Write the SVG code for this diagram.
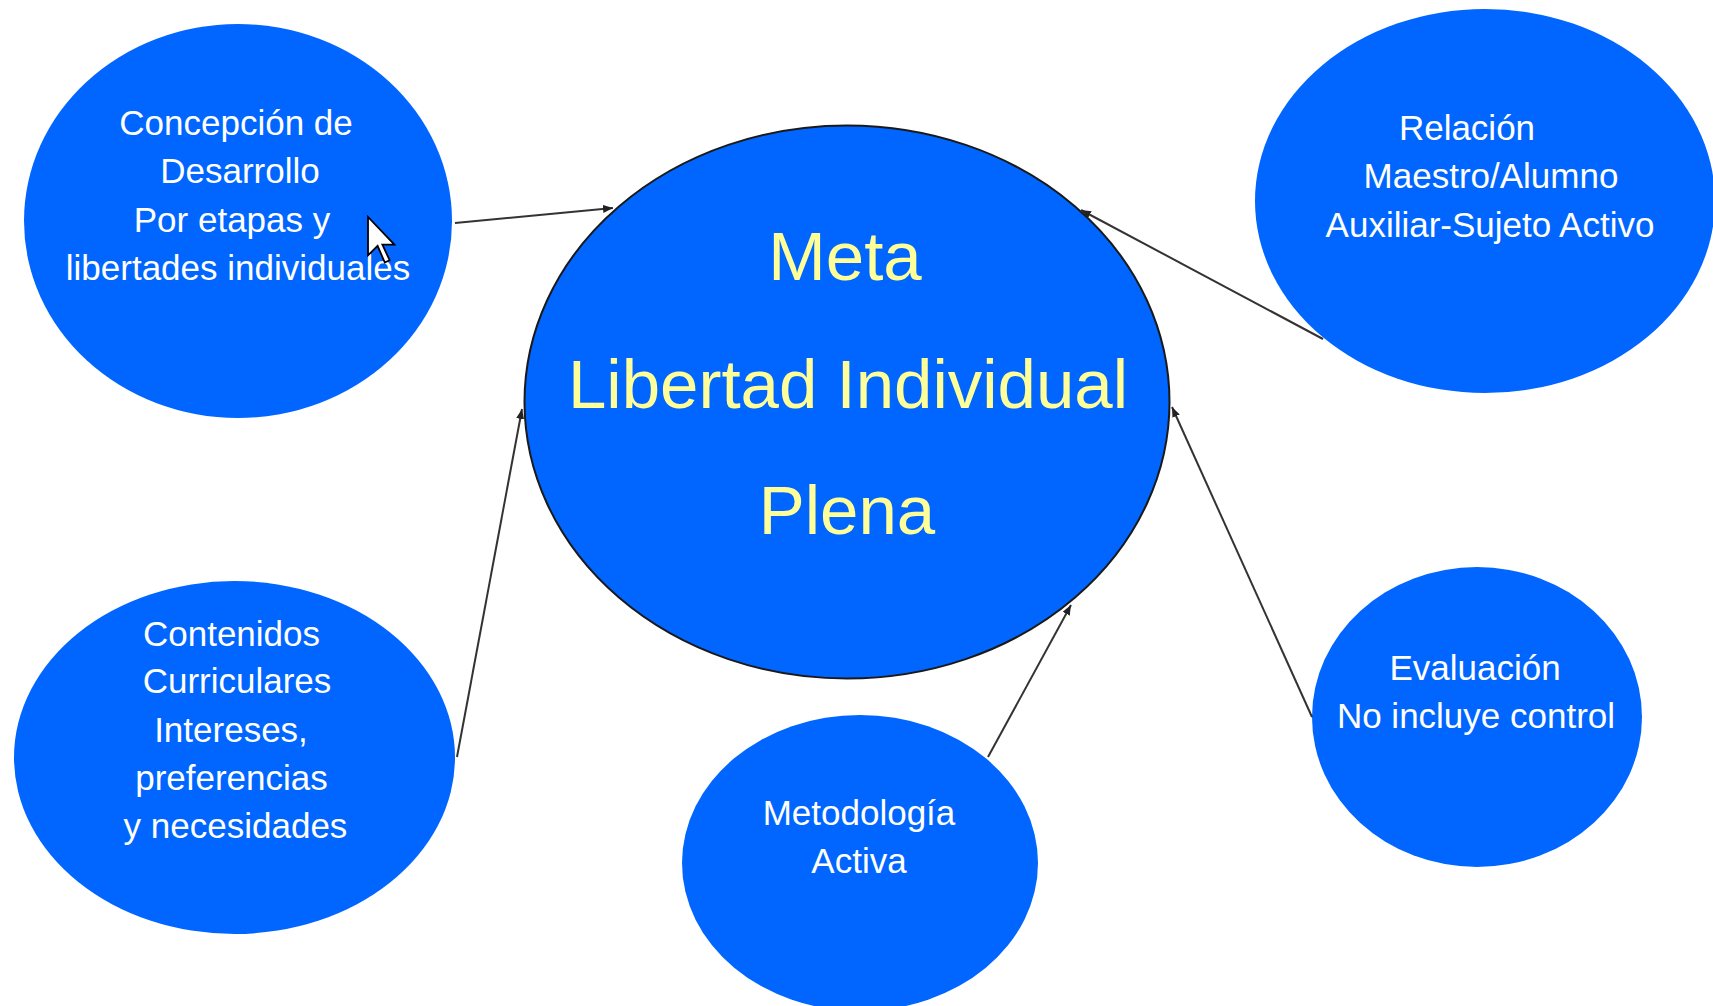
<svg xmlns="http://www.w3.org/2000/svg" width="1713" height="1006" viewBox="0 0 1713 1006">
<defs>
<style>
.node{fill:#0066FF;}
.main{fill:#0066FF;stroke:#1a1a1a;stroke-width:2;}
.t{font-family:"Liberation Sans",Arial,sans-serif;font-size:35px;fill:#FFFFFF;text-anchor:middle;}
.tm{font-family:"Liberation Sans",Arial,sans-serif;font-size:69px;fill:#FFFF99;text-anchor:middle;}
.c{stroke:#333333;stroke-width:2;fill:none;marker-end:url(#ah);}
</style>
<marker id="ah" markerUnits="userSpaceOnUse" markerWidth="12" markerHeight="10" refX="10" refY="4" orient="auto">
<path d="M0,0 L10,4 L0,8 Z" fill="#222222"/>
</marker>
</defs>
<rect width="1713" height="1006" fill="#FFFFFF"/>
<g id="n-concepcion">
<ellipse class="node" cx="238" cy="221" rx="214" ry="197"/>
<text class="t" x="236" y="135">Concepción de</text>
<text class="t" x="240" y="183">Desarrollo</text>
<text class="t" x="232" y="232">Por etapas y</text>
<text class="t" x="238" y="280">libertades individuales</text>
</g>
<g id="n-relacion">
<ellipse class="node" cx="1485" cy="201" rx="230" ry="192"/>
<text class="t" x="1467" y="140">Relación</text>
<text class="t" x="1491" y="188">Maestro/Alumno</text>
<text class="t" x="1490" y="237">Auxiliar-Sujeto Activo</text>
</g>
<g id="n-contenidos">
<ellipse class="node" cx="234.5" cy="757.5" rx="220.5" ry="176.5"/>
<text class="t" x="231.5" y="646">Contenidos</text>
<text class="t" x="237" y="693">Curriculares</text>
<text class="t" x="231" y="742">Intereses,</text>
<text class="t" x="231.5" y="790">preferencias</text>
<text class="t" x="235.5" y="838">y necesidades</text>
</g>
<g id="n-metodologia">
<ellipse class="node" cx="860" cy="863" rx="178" ry="148"/>
<text class="t" x="859" y="825">Metodología</text>
<text class="t" x="859" y="873">Activa</text>
</g>
<g id="n-evaluacion">
<ellipse class="node" cx="1477" cy="717" rx="165" ry="150"/>
<text class="t" x="1475" y="680">Evaluación</text>
<text class="t" x="1476" y="728">No incluye control</text>
</g>
<g id="n-meta">
<ellipse class="main" cx="847" cy="402" rx="322.5" ry="276.5"/>
<text class="tm" x="845" y="280">Meta</text>
<text class="tm" x="848" y="408">Libertad Individual</text>
<text class="tm" x="847" y="534">Plena</text>
</g>
<g id="connectors">
<line class="c" x1="455" y1="223" x2="613" y2="208"/>
<line class="c" x1="1323" y1="339" x2="1081" y2="210"/>
<line class="c" x1="457" y1="757" x2="522" y2="409"/>
<line class="c" x1="988" y1="757" x2="1071" y2="605"/>
<line class="c" x1="1312" y1="717" x2="1172" y2="407"/>
</g>
<g id="cursor">
<polygon points="368,217 368,255.4 377.6,245.8 384.8,262.6 389.6,260.2 382.4,244.6 394.4,244.6" fill="#FFFFFF" stroke="#000000" stroke-width="1.8" stroke-linejoin="miter"/>
</g>
</svg>
